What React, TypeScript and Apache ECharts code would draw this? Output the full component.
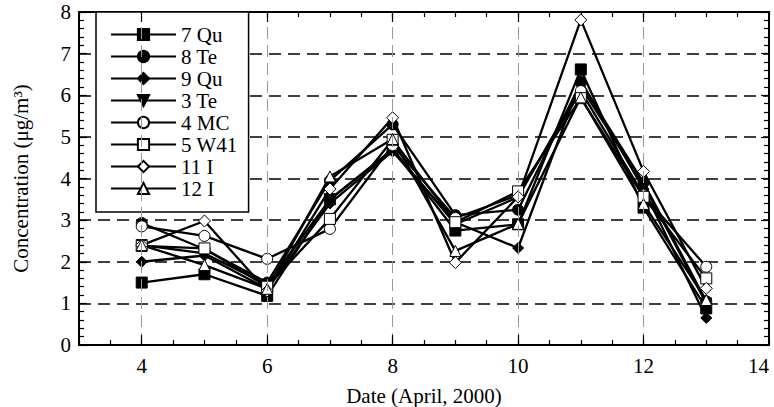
import React, { useEffect, useRef } from 'react';
import * as echarts from 'echarts';

// ---- data ----
const dates = [4, 5, 6, 7, 8, 9, 10, 11, 12, 13];
const seriesNames = ['7 Qu', '8 Te', '9 Qu', '3 Te', '4 MC', '5 W41', '11 I', '12 I'];
const qu7 = [1.5, 1.7, 1.18, 3.5, 4.7, 2.75, 2.9, 6.62, 3.3, 0.88];
const te8 = [2.93, 2.3, 1.5, 3.95, 5.3, 3.12, 3.25, 6.3, 3.9, 1.05];
const qu9 = [2.0, 2.15, 1.35, 3.4, 4.65, 2.95, 2.33, 6.35, 3.75, 0.65];
const te3 = [2.4, 2.2, 1.45, 3.5, 4.7, 2.9, 3.55, 6.2, 3.85, 1.0];
const mc4 = [2.85, 2.62, 2.07, 2.79, 4.8, 3.05, 3.6, 6.1, 3.6, 1.88];
const w41 = [2.38, 2.32, 1.4, 3.03, 4.93, 2.95, 3.69, 5.93, 3.56, 1.6];
const i11 = [2.4, 2.98, 1.3, 3.75, 5.46, 1.98, 3.56, 7.81, 4.17, 1.36];
const i12 = [2.4, 1.92, 1.35, 4.05, 4.95, 2.26, 2.91, 5.95, 3.39, 1.08];
const seriesValues = [qu7, te8, qu9, te3, mc4, w41, i11, i12];

const xLabelValues = [4, 6, 8, 10, 12, 14];
const xGridValues = [4, 6, 8, 10, 12];
const xMajorTicks = [4, 6, 8, 10, 12];

// marker styles
const markerStyles = [
  { symbol: 'rect', size: 11, rotate: 0, fill: '#000' },
  { symbol: 'circle', size: 11, rotate: 0, fill: '#000' },
  { symbol: 'diamond', size: 11, rotate: 0, fill: '#000' },
  { symbol: 'triangle', size: 11, rotate: 180, fill: '#000' },
  { symbol: 'circle', size: 11, rotate: 0, fill: '#fff' },
  { symbol: 'rect', size: 11, rotate: 0, fill: '#fff' },
  { symbol: 'diamond', size: 12, rotate: 0, fill: '#fff' },
  { symbol: 'triangle', size: 11, rotate: 0, fill: '#fff' },
];

const FONT = '"Liberation Serif", "Times New Roman", serif';
const FS = 21;

export default function App() {
  const ref = useRef<HTMLDivElement>(null);

  useEffect(() => {
    if (!ref.current) return;
    const chart = echarts.init(ref.current, null, { renderer: 'svg' });

    const dataSeries = seriesNames.map((name, i) => {
      const m = markerStyles[i];
      return {
        name,
        type: 'line',
        data: dates.map((d, j) => [d, seriesValues[i][j]]),
        symbol: m.symbol,
        symbolSize: m.size,
        symbolRotate: m.rotate,
        showSymbol: true,
        lineStyle: { color: '#000', width: 2.3 },
        itemStyle: { color: m.fill, borderColor: '#000', borderWidth: 1 },
        emphasis: { disabled: true },
        z: 3,
      };
    });

    const gridSeries = {
      name: '__grid',
      type: 'line',
      data: [],
      silent: true,
      z: 1,
      markLine: {
        silent: true,
        symbol: ['none', 'none'],
        label: { show: false },
        lineStyle: { color: '#9a9a9a', type: [12, 6], width: 1 },
        data: xGridValues.map((x) => ({ xAxis: x })),
      },
    };

    const tickSeries = {
      name: '__ticks',
      type: 'line',
      data: [],
      silent: true,
      z: 4,
      markLine: {
        silent: true,
        symbol: ['none', 'none'],
        label: { show: false },
        lineStyle: { color: '#000', type: 'solid', width: 1.2 },
        data: [
          ...xMajorTicks.map((x) => [{ coord: [x, 0] }, { coord: [x, 0.24] }]),
          ...xMajorTicks.map((x) => [{ coord: [x, 8] }, { coord: [x, 7.76] }]),
        ],
      },
    };

    const xCommon = {
      type: 'value',
      min: 3,
      max: 14,
      interval: 0.5,
      axisLine: { show: true, onZero: false, lineStyle: { color: '#000', width: 2 } },
      axisTick: { show: true, inside: true, length: 5, lineStyle: { color: '#000', width: 1.2 } },
      splitLine: { show: false },
      minorTick: { show: false },
    };

    const yCommon = {
      type: 'value',
      min: 0,
      max: 8,
      interval: 1,
      axisLine: { show: true, onZero: false, lineStyle: { color: '#000', width: 2 } },
      axisTick: { show: true, inside: true, length: 8, lineStyle: { color: '#000', width: 1.2 } },
      minorTick: { show: true, splitNumber: 5, length: 5, lineStyle: { color: '#000', width: 1.2 } },
    };

    chart.setOption({
      animation: false,
      backgroundColor: '#fff',
      textStyle: { fontFamily: FONT },
      grid: { left: 79, right: 5, top: 12, bottom: 62, containLabel: false, outerBoundsMode: 'none' },
      legend: {
        orient: 'vertical',
        left: 96,
        top: 12,
        data: seriesNames,
        backgroundColor: '#fff',
        borderColor: '#000',
        borderWidth: 1.5,
        padding: [12, 11, 13, 14],
        itemWidth: 65,
        itemHeight: 14,
        itemGap: 1,
        selectedMode: false,
        textStyle: { fontFamily: FONT, fontSize: FS, color: '#000' },
      },
      xAxis: [
        {
          ...xCommon,
          position: 'bottom',
          name: 'Date (April, 2000)',
          nameLocation: 'middle',
          nameGap: 40,
          nameTextStyle: { fontFamily: FONT, fontSize: FS, color: '#000' },
          axisLabel: {
            show: true,
            margin: 10,
            fontFamily: FONT,
            fontSize: FS,
            color: '#000',
            alignMaxLabel: 'right',
            formatter: (v: number) => (xLabelValues.indexOf(v) >= 0 ? String(v) : ''),
          },
        },
        {
          ...xCommon,
          position: 'top',
          axisLabel: { show: false },
        },
      ],
      yAxis: [
        {
          ...yCommon,
          position: 'left',
          name: 'Concentration (μg/m³)',
          nameLocation: 'middle',
          nameGap: 48,
          nameTextStyle: { fontFamily: FONT, fontSize: FS, color: '#000' },
          axisLabel: { show: true, margin: 8, fontFamily: FONT, fontSize: FS, color: '#000' },
          splitLine: { show: true, lineStyle: { color: '#000', type: [12, 7], width: 1.5 } },
        },
        {
          ...yCommon,
          position: 'right',
          axisLabel: { show: false },
          splitLine: { show: false },
        },
      ],
      series: [gridSeries, ...dataSeries, tickSeries],
    });

    return () => {
      chart.dispose();
    };
  }, []);

  return (
    <div
      ref={ref}
      style={{ position: 'fixed', left: 0, top: 0, width: 774, height: 407, background: '#fff' }}
    />
  );
}
